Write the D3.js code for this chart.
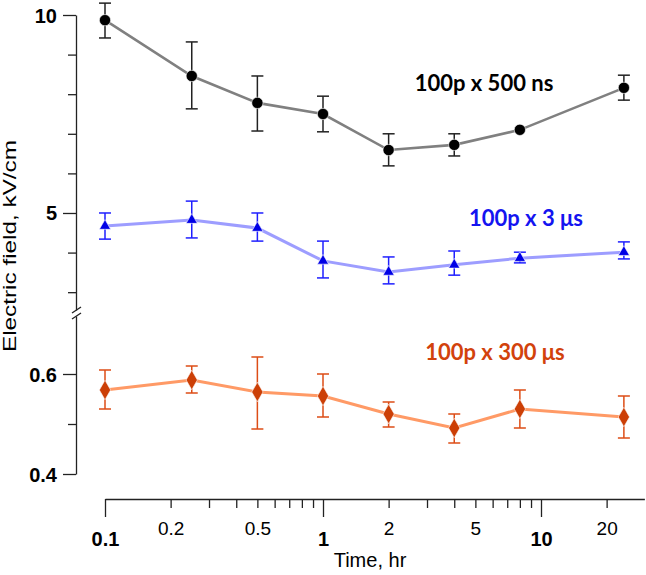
<!DOCTYPE html>
<html><head><meta charset="utf-8">
<script src="https://cdn.jsdelivr.net/npm/d3@7/dist/d3.min.js"></script>
<style>body{margin:0;background:#fff}svg{display:block}.ar{font-family:Arial,"Liberation Sans",Arimo,Helvetica,sans-serif}</style>
</head><body><svg id="c" width="646" height="575"></svg>
<script>
const times = [0.1, 0.25, 0.5, 1, 2, 4, 8, 24];
const e500 = [9.87, 8.46, 7.78, 7.5, 6.59, 6.72, 7.1, 8.16];
const e500Hi = [10.3, 9.32, 8.46, 7.95, 7.0, 7.0, null, 8.48];
const e500Lo = [9.42, 7.63, 7.07, 7.05, 6.19, 6.44, null, 7.85];
const e3 = [4.67, 4.82, 4.62, 3.79, 3.51, 3.69, 3.86, 4.01];
const e3Hi = [5.0, 5.30, 5.0, 4.29, 3.89, 4.04, 4.01, 4.27];
const e3Lo = [4.34, 4.37, 4.29, 3.36, 3.21, 3.43, 3.74, 3.84];
const e300 = [0.568, 0.588, 0.564, 0.556, 0.52, 0.492, 0.53, 0.514];
const e300Hi = [0.608, 0.616, 0.634, 0.6, 0.544, 0.52, 0.568, 0.556];
const e300Lo = [0.53, 0.562, 0.49, 0.514, 0.494, 0.462, 0.492, 0.472];
const seriesLabels = ["100p x 500 ns", "100p x 3 \u03bcs", "100p x 300 \u03bcs"];
const xTicks = [0.1,0.2,0.3,0.4,0.5,0.6,0.7,0.8,0.9,1,2,3,4,5,6,7,8,9,10,20];
const xLabels = {0.1:"0.1",0.2:"0.2",0.5:"0.5",1:"1",2:"2",5:"5",10:"10",20:"20"};
const xMajor = [0.1, 1, 10];
const yUpperTicks = [3,4,5,6,7,8,9,10];
const yUpperLabels = {5:"5",10:"10"};
const yLowerTicks = [0.4,0.5,0.6];
const yLowerLabels = {0.4:"0.4",0.6:"0.6"};

const svg = d3.select("#c");
const x = d3.scaleLog().domain([0.1, 29.8]).range([105, 105 + 218*Math.log10(298)]);
const yU = d3.scaleLinear().domain([2.55, 10]).range([310, 15]);
const yL = d3.scaleLinear().domain([0.4, 0.716]).range([474, 316]);

const AX = 76, AY = 499;

function yAxis(scale, ticks, labels) {
  const g = svg.append("g").attr("transform", `translate(${AX},0)`)
    .call(d3.axisLeft(scale).tickValues(ticks).tickSizeOuter(0)
      .tickFormat(d => labels[d] || ""));
  g.attr("font-family", null).attr("class", "ar").attr("font-size", 20);
  g.select(".domain").attr("stroke", "#222").attr("stroke-width", 1.3);
  g.selectAll(".tick line").attr("stroke", "#222").attr("stroke-width", 1.3)
    .attr("x2", d => labels[d] ? -13 : -8);
  g.selectAll(".tick text").attr("x", -19).attr("dy", "0.35em")
    .attr("font-weight", "bold").attr("fill", "#000");
}
yAxis(yU, yUpperTicks, yUpperLabels);
yAxis(yL, yLowerTicks, yLowerLabels);

svg.append("line").attr("x1", 72).attr("y1", 313).attr("x2", 81).attr("y2", 307).attr("stroke", "#222").attr("stroke-width", 1.3);
svg.append("line").attr("x1", 72).attr("y1", 319).attr("x2", 81).attr("y2", 313).attr("stroke", "#222").attr("stroke-width", 1.3);

const gx = svg.append("g").attr("transform", `translate(0,${AY})`)
  .call(d3.axisBottom(x).tickValues(xTicks).tickSizeOuter(0).tickFormat(d => xLabels[d] || ""));
gx.attr("font-family", null).attr("class", "ar").attr("font-size", 19);
gx.select(".domain").attr("stroke", "#222").attr("stroke-width", 1.3);
gx.selectAll(".tick line").attr("stroke", "#222").attr("stroke-width", 1.3)
  .attr("y2", d => xMajor.includes(d) ? 18 : 9);
gx.selectAll(".tick text").attr("dy", null)
  .attr("y", d => xMajor.includes(d) ? 47 : 36)
  .attr("fill", "#000")
  .attr("font-weight", d => xMajor.includes(d) ? "bold" : "normal")
  .attr("font-size", d => xMajor.includes(d) ? 20 : 19);

svg.append("text").attr("class", "ar").attr("x", 370).attr("y", 567).attr("text-anchor", "middle")
  .attr("font-size", 20).text("Time, hr");
svg.append("text").attr("class", "ar").attr("transform", "translate(16,246) rotate(-90)").attr("text-anchor", "middle")
  .attr("font-size", 19)
  .attr("textLength", 212).attr("lengthAdjust", "spacingAndGlyphs").text("Electric field, kV/cm");

function series(vals, hi, lo, scale, lineColor, markColor, errColor, symbol, symSize, lw) {
  const pts = times.map((t, i) => ({t, v: vals[i], hi: hi[i], lo: lo[i]}));
  const g = svg.append("g");
  const eb = g.selectAll("g.eb").data(pts.filter(d => d.hi != null)).join("g")
    .attr("stroke", errColor).attr("stroke-width", 1.5).attr("fill", "none");
  eb.append("line").attr("x1", d => x(d.t)).attr("x2", d => x(d.t)).attr("y1", d => scale(d.hi)).attr("y2", d => scale(d.lo));
  eb.append("line").attr("x1", d => x(d.t) - 6).attr("x2", d => x(d.t) + 6).attr("y1", d => scale(d.hi)).attr("y2", d => scale(d.hi));
  eb.append("line").attr("x1", d => x(d.t) - 6).attr("x2", d => x(d.t) + 6).attr("y1", d => scale(d.lo)).attr("y2", d => scale(d.lo));
  g.append("path").datum(pts).attr("fill", "none").attr("stroke", lineColor).attr("stroke-width", lw)
    .attr("d", d3.line().x(d => x(d.t)).y(d => scale(d.v)));
  g.selectAll("path.m").data(pts).join("path").attr("class", "m")
    .attr("transform", d => `translate(${x(d.t)},${scale(d.v)})`)
    .attr("d", d3.symbol().type(symbol).size(symSize))
    .attr("fill", markColor).attr("stroke", "#fff").attr("stroke-width", 0.6);
}
series(e500, e500Hi, e500Lo, yU, "#808080", "#000", "#222", d3.symbolCircle, 100, 2.6);
series(e3, e3Hi, e3Lo, yU, "#9d9dff", "#0000e6", "#1f1fff", d3.symbolTriangle, 55, 3);
series(e300, e300Hi, e300Lo, yL, "#ff9a66", "#cc3f06", "#dd4d16", d3.symbolDiamond, 110, 3);

const lab = [
  {t: seriesLabels[0], x: 484, y: 91, c: "#000"},
  {t: seriesLabels[1], x: 526, y: 226, c: "#1414f0"},
  {t: seriesLabels[2], x: 495, y: 360, c: "#d2420c"}
];
svg.selectAll("text.sl").data(lab).join("text").attr("class", "sl")
  .attr("x", d => d.x).attr("y", d => d.y).attr("text-anchor", "middle")
  .attr("font-family", "Lato, 'Open Sans', sans-serif").attr("font-weight", "bold").attr("font-size", 22)
  .attr("fill", d => d.c).text(d => d.t);
</script></body></html>
